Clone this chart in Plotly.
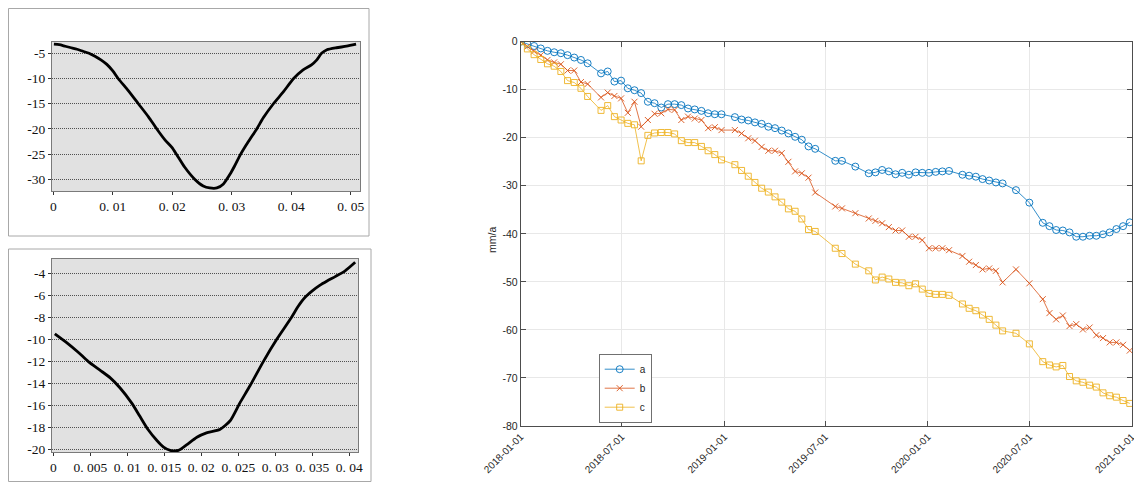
import plotly.graph_objects as go

# ---------------- data: right chart ----------------
dates = [
    "2018-01-01", "2018-01-13", "2018-01-25", "2018-02-06", "2018-02-18", "2018-03-02", "2018-03-14",
    "2018-03-26", "2018-04-07", "2018-04-19", "2018-05-01", "2018-05-25", "2018-06-06", "2018-06-18",
    "2018-06-30", "2018-07-12", "2018-07-24", "2018-08-05", "2018-08-17", "2018-08-29", "2018-09-10",
    "2018-09-22", "2018-10-04", "2018-10-16", "2018-10-28", "2018-11-09", "2018-11-21", "2018-12-03",
    "2018-12-15", "2018-12-27", "2019-01-20", "2019-02-01", "2019-02-13", "2019-02-25", "2019-03-09",
    "2019-03-21", "2019-04-02", "2019-04-14", "2019-04-26", "2019-05-08", "2019-05-20", "2019-06-01",
    "2019-06-13", "2019-07-19", "2019-07-31", "2019-08-24", "2019-09-17", "2019-09-29", "2019-10-11",
    "2019-10-23", "2019-11-04", "2019-11-16", "2019-11-28", "2019-12-10", "2019-12-22", "2020-01-03",
    "2020-01-15", "2020-01-27", "2020-02-08", "2020-03-03", "2020-03-15", "2020-03-27", "2020-04-08",
    "2020-04-20", "2020-05-02", "2020-05-14", "2020-06-07", "2020-07-01", "2020-07-25", "2020-08-06",
    "2020-08-18", "2020-08-30", "2020-09-11", "2020-09-23", "2020-10-05", "2020-10-17", "2020-10-29",
    "2020-11-10", "2020-11-22", "2020-12-04", "2020-12-16", "2020-12-28",
]
series_a = [
    0, -0.5, -0.9, -1.4, -1.9, -2.2, -2.4, -2.8, -3.3, -3.8, -4.5, -6.6, -6.2, -8.3, -8.1, -9.7,
    -10.1, -10.7, -12.5, -12.8, -13.7, -13.0, -13.0, -13.2, -13.9, -14.1, -14.4, -14.9, -15.1, -15.1,
    -15.7, -16.2, -16.4, -16.8, -17.1, -17.7, -18.0, -18.5, -19.1, -19.8, -20.4, -21.8, -22.3,
    -24.8, -24.8, -26.0, -27.4, -27.2, -26.7, -27.0, -27.6, -27.3, -27.7, -27.2, -27.3, -27.3,
    -27.1, -27.0, -26.9, -27.7, -27.9, -28.1, -28.6, -28.9, -29.3, -29.5, -30.9, -33.5, -37.7,
    -38.4, -39.2, -39.3, -39.7, -40.6, -40.6, -40.4, -40.4, -40.1, -39.7, -39.0, -38.4, -37.6,
]
series_b = [
    0, -1.0, -2.0, -2.8, -3.8, -4.3, -4.7, -6.0, -6.0, -8.4, -8.8, -11.6, -10.6, -11.3, -11.8, -14.8,
    -12.5, -17.7, -16.3, -15.0, -14.9, -14.1, -14.2, -16.3, -15.6, -16.0, -16.3, -18.0, -17.8, -18.4,
    -18.4, -19.1, -20.1, -20.6, -21.9, -22.7, -22.7, -23.2, -25.0, -27.0, -27.4, -28.3, -31.4,
    -34.3, -34.7, -35.7, -36.8, -37.3, -37.8, -38.6, -39.3, -39.3, -40.6, -40.6, -41.3, -43.0,
    -43.0, -43.0, -43.4, -44.6, -45.8, -46.5, -47.4, -47.2, -47.7, -50.1, -47.4, -50.3, -53.6,
    -56.5, -57.8, -57.0, -59.2, -58.8, -59.9, -59.5, -61.1, -61.7, -62.6, -62.6, -63.1, -64.3,
]
series_c = [
    0, -1.5, -2.7, -3.7, -4.6, -5.1, -6.2, -8.1, -8.5, -9.7, -11.4, -14.3, -13.3, -15.6, -16.3, -17.0,
    -17.3, -24.8, -19.5, -19.0, -18.9, -18.9, -19.2, -20.6, -21.0, -21.0, -21.8, -22.7, -23.5, -24.6,
    -25.6, -26.8, -28.0, -29.3, -30.5, -31.3, -32.3, -33.4, -34.8, -35.3, -36.9, -39.1, -39.5,
    -43.0, -44.1, -46.3, -47.7, -49.6, -49.0, -49.4, -50.1, -50.2, -50.8, -50.4, -51.5, -52.4,
    -52.6, -52.6, -52.8, -54.6, -55.5, -56.0, -56.9, -57.8, -59.0, -60.2, -60.7, -62.9, -66.6,
    -67.3, -67.7, -67.4, -69.7, -70.6, -70.9, -71.5, -71.9, -73.1, -73.7, -74.0, -74.7, -75.3,
]
series_names = ["a", "b", "c"]
x_tick_dates = ["2018-01-01", "2018-07-01", "2019-01-01", "2019-07-01", "2020-01-01", "2020-07-01", "2021-01-01"]
y_ticks_right = [0, -10, -20, -30, -40, -50, -60, -70, -80]

# ---------------- data: left panels ----------------
top_x = [0.0001, 0.0010, 0.0020, 0.0030, 0.0040, 0.0050, 0.0060, 0.0070, 0.0080, 0.0090, 0.0100,
         0.0109, 0.0126, 0.0143, 0.0160, 0.0174, 0.0188, 0.0199, 0.0207, 0.0221, 0.0238, 0.0252,
         0.0263, 0.0275, 0.0286, 0.0297, 0.0305, 0.0315, 0.0328, 0.0342, 0.0353, 0.0370, 0.0387,
         0.0404, 0.0420, 0.0434, 0.0443, 0.0451, 0.0460, 0.0476, 0.0493, 0.0509]
top_y = [-3.2, -3.3, -3.6, -3.9, -4.2, -4.6, -5.0, -5.6, -6.3, -7.2, -8.5,
         -10.0, -12.4, -15.0, -17.6, -20.0, -22.2, -23.6, -25.0, -27.6, -30.0, -31.3,
         -31.7, -31.7, -30.9, -29.0, -27.3, -25.0, -22.5, -20.0, -17.8, -15.0, -12.6,
         -10.0, -8.3, -7.3, -6.3, -5.0, -4.3, -3.9, -3.6, -3.2]
top_xticks = [0, 0.01, 0.02, 0.03, 0.04, 0.05]
top_xticktext = ["0", "0. 01", "0. 02", "0. 03", "0. 04", "0. 05"]
top_yticks = [-5, -10, -15, -20, -25, -30]

bot_x = [0.0002, 0.0018, 0.0034, 0.0047, 0.0063, 0.0077, 0.0090, 0.0106, 0.0117, 0.0128, 0.0140,
         0.0149, 0.0158, 0.0169, 0.0180, 0.0194, 0.0207, 0.0225, 0.0239, 0.0252, 0.0266, 0.0284,
         0.0302, 0.0322, 0.0331, 0.0340, 0.0350, 0.0360, 0.0370, 0.0381, 0.0394, 0.0408]
bot_y = [-9.5, -10.3, -11.2, -12.0, -12.8, -13.5, -14.4, -15.8, -17.0, -18.2, -19.2,
         -19.8, -20.1, -20.1, -19.6, -18.9, -18.5, -18.2, -17.4, -15.8, -14.2, -12.0,
         -10.0, -8.0, -7.0, -6.2, -5.6, -5.1, -4.7, -4.3, -3.8, -3.0]
bot_xticks = [0, 0.005, 0.01, 0.015, 0.02, 0.025, 0.03, 0.035, 0.04]
bot_xticktext = ["0", "0. 005", "0. 01", "0. 015", "0. 02", "0. 025", "0. 03", "0. 035", "0. 04"]
bot_yticks = [-4, -6, -8, -10, -12, -14, -16, -18, -20]

# page has an 8px body margin: the figure is drawn at page offset (8, 8)
OFF = 8
W, H = 1142 - OFF, 482 - OFF


def px(p):
    return (p - OFF) / W


def py(p):
    return 1 - (p - OFF) / H


def dom_x(a, b):
    return [px(a), px(b)]


def dom_y(top, bottom):
    return [py(bottom), py(top)]


fig = go.Figure()

# left panels
fig.add_trace(go.Scatter(x=top_x, y=top_y, mode="lines", line=dict(color="black", width=2.8, shape="spline", smoothing=0.6),
                         xaxis="x", yaxis="y", showlegend=False))
fig.add_trace(go.Scatter(x=bot_x, y=bot_y, mode="lines", line=dict(color="black", width=2.8, shape="spline", smoothing=0.6),
                         xaxis="x2", yaxis="y2", showlegend=False))

# right chart
colors = ["#0072BD", "#D95319", "#EDB120"]
symbols = ["circle-open", "x-thin-open", "square-open"]
sizes = [7, 6, 6]
for name, vals, col, sym, sz in zip(series_names, [series_a, series_b, series_c], colors, symbols, sizes):
    fig.add_trace(go.Scatter(x=dates, y=vals, name=name, mode="lines+markers",
                             line=dict(color=col, width=0.8),
                             marker=dict(symbol=sym, size=sz, color=col, line=dict(color=col, width=0.9)),
                             xaxis="x3", yaxis="y3"))

serif = dict(family="Liberation Serif", size=13.5, color="#111111")
left_common = dict(showline=True, linecolor="#7a7a7a", linewidth=1, mirror=True, zeroline=False,
                   ticks="outside", ticklen=3, tickcolor="#333", tickfont=serif, automargin=False)

fig.update_layout(
    width=W, height=H, margin=dict(l=0, r=0, t=0, b=0, pad=0, autoexpand=False),
    paper_bgcolor="white", plot_bgcolor="rgba(0,0,0,0)",
    font=dict(family="Liberation Sans", size=10, color="#262626"),
    xaxis=dict(domain=dom_x(52, 360), anchor="y", range=[-0.00022, 0.05156], tickvals=top_xticks,
               ticktext=top_xticktext, showgrid=False, **left_common),
    yaxis=dict(domain=dom_y(42, 191), anchor="x", range=[-32.3, -2.76], tickvals=top_yticks,
               ticktext=[str(v) for v in top_yticks], showgrid=True, gridcolor="#505050", griddash="1px,1px",
               gridwidth=1, **left_common),
    xaxis2=dict(domain=dom_x(52, 358), anchor="y2", range=[-0.00018, 0.04118], tickvals=bot_xticks,
                ticktext=bot_xticktext, showgrid=False, **left_common),
    yaxis2=dict(domain=dom_y(259, 452), anchor="x2", range=[-20.24, -2.7], tickvals=bot_yticks,
                ticktext=[str(v) for v in bot_yticks], showgrid=True, gridcolor="#505050", griddash="1px,1px",
                gridwidth=1, **left_common),
    xaxis3=dict(domain=dom_x(520.7, 1132), anchor="y3", range=["2018-01-01", "2021-01-01"],
                tickvals=x_tick_dates, ticktext=x_tick_dates, tickangle=-45, automargin=False,
                showgrid=True, gridcolor="#e8e8e8", showline=True, linecolor="#4d4d4d", linewidth=1,
                mirror="ticks", ticks="inside", ticklen=5, tickcolor="#4d4d4d", zeroline=False,
                tickfont=dict(family="Liberation Sans", size=10, color="#262626")),
    yaxis3=dict(domain=dom_y(41.7, 426), anchor="x3", range=[-80, 0], tickvals=y_ticks_right,
                ticktext=[str(v) for v in y_ticks_right], automargin=False,
                showgrid=True, gridcolor="#e8e8e8", showline=True, linecolor="#4d4d4d", linewidth=1,
                mirror="ticks", ticks="inside", ticklen=5, tickcolor="#4d4d4d", zeroline=False,
                tickfont=dict(family="Liberation Sans", size=10.5, color="#262626")),
    legend=dict(x=px(599), y=py(423), xanchor="left", yanchor="bottom", bgcolor="white",
                bordercolor="#333", borderwidth=0.7, font=dict(family="Liberation Sans", size=10, color="#262626"),
                itemwidth=30, tracegroupgap=0),
    annotations=[dict(text="mm/a", x=px(492), y=py(240), xref="paper", yref="paper", textangle=-90,
                      showarrow=False, font=dict(family="Liberation Sans", size=10.5, color="#262626"))],
    shapes=[
        dict(type="rect", xref="x domain", yref="y domain", x0=0, x1=1, y0=0, y1=1, fillcolor="#e1e1e1",
             line=dict(width=0), layer="below"),
        dict(type="rect", xref="x2 domain", yref="y2 domain", x0=0, x1=1, y0=0, y1=1, fillcolor="#e1e1e1",
             line=dict(width=0), layer="below"),
        dict(type="rect", xref="paper", yref="paper", x0=0.5 / W, x1=px(369), y0=py(236), y1=1 - 0.5 / H,
             line=dict(color="#a8a8a8", width=1), layer="below"),
        dict(type="rect", xref="paper", yref="paper", x0=0.5 / W, x1=px(371), y0=0.5 / H, y1=py(249),
             line=dict(color="#a8a8a8", width=1), layer="below"),
    ],
)

fig.write_html("out.html")
